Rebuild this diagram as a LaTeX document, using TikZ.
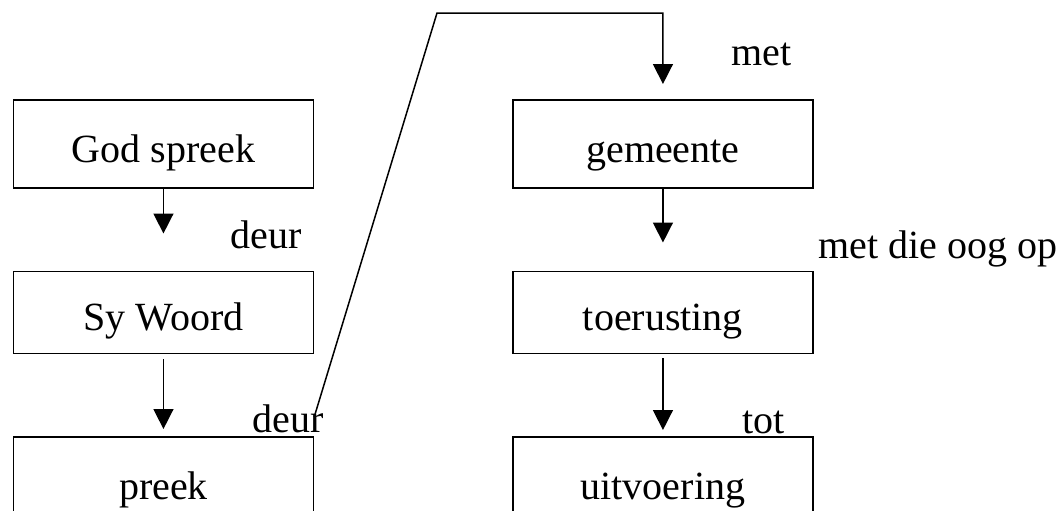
\documentclass[tikz,border=0pt]{standalone}
\usepackage{fontspec}
\setmainfont{Liberation Serif}
\usetikzlibrary{arrows.meta, positioning}

\begin{document}
\begin{tikzpicture}[x=0.5pt,y=-0.5pt,line width=0.75pt,node distance=41pt and 99pt,
    >={Triangle[length=10pt,width=10pt]}]
  \tikzstyle{every node}=[font=\fontsize{20}{24}\selectfont]
  \tikzstyle{blok}=[draw,inner sep=0pt,minimum width=150pt,text height=31.5pt,text depth=12.5pt]
  \tikzstyle{kort}=[draw,inner sep=0pt,minimum width=150pt,text height=29.5pt,text depth=11.5pt]
  \tikzstyle{woord}=[inner sep=0pt,anchor=base west]

  \clip (0,0) rectangle (1059,510);

  \node[blok,anchor=north west] (god) at (12.7,99) {God spreek};
  \node[kort]  (sywoord)    [below=of god]        {Sy Woord};
  \node[blok]  (preek)      [below=of sywoord]    {preek};
  \node[blok]  (gemeente)   [right=of god]        {gemeente};
  \node[kort]  (toerusting) [below=of gemeente]   {toerusting};
  \node[blok]  (uitvoering) [below=of toerusting] {uitvoering};

  \path[->]
  (god)        edge[shorten >=18.5pt]                  (sywoord)
  (sywoord)    edge[shorten <=2.5pt,shorten >=3.5pt]   (preek)
  (gemeente)   edge[shorten >=14pt]                    (toerusting)
  (toerusting) edge[shorten <=2pt,shorten >=3pt]       (uitvoering)
  ;

  \coordinate (knik) at (437,13);
  \draw[->,shorten >=7.5pt] ([yshift=9.5pt]preek.north east) -- (knik) -| (gemeente);

  \node[woord] (deur1) at (230,248) {deur};
  \node[woord] (deur2) at (252,432) {deur};
  \node[woord] (met1)  at (731,65)  {met};
  \node[woord] (oog)   at (818,258) {met die oog op};
  \node[woord] (tot)   at (742,433) {tot};
\end{tikzpicture}
\end{document}
